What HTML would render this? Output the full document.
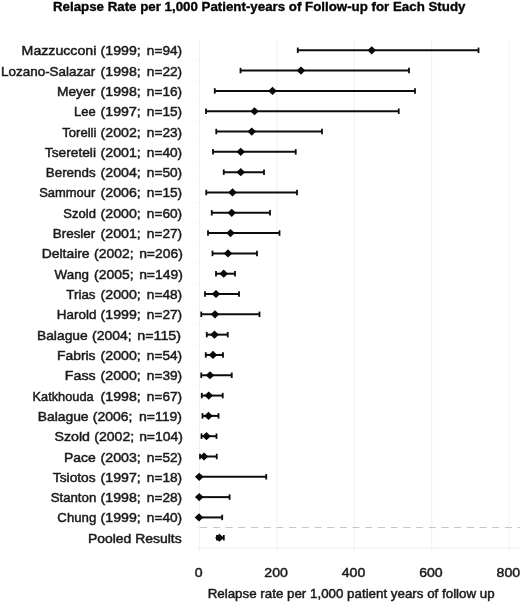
<!DOCTYPE html>
<html><head><meta charset="utf-8"><title>Relapse Rate</title>
<style>
html,body{margin:0;padding:0;background:#fff;}
body{width:520px;height:602px;overflow:hidden;}
svg{display:block;}
text{font-family:"Liberation Sans",Arial,sans-serif;fill:#1a1a1a;stroke:#1a1a1a;stroke-width:0.48px;}
.lbl{font-size:13.2px;text-anchor:start;}
.tick{font-size:13.4px;text-anchor:middle;}
.ttl{font-size:12.8px;font-weight:bold;text-anchor:middle;fill:#050505;stroke:#050505;stroke-width:0.35px;}
.xl{font-size:12.8px;text-anchor:middle;}
.g{stroke:#f0f0f0;stroke-width:1;fill:none;}
.e{stroke:#0c0c0c;stroke-width:2;fill:none;}
.c{stroke:#0c0c0c;stroke-width:1.8;fill:none;}
.d{fill:#0a0a0a;}
</style></head><body>
<svg width="520" height="602" viewBox="0 0 520 602">
<rect width="520" height="602" fill="#fff"/>
<text class="ttl" x="259.2" y="11.2" textLength="412.5" lengthAdjust="spacingAndGlyphs">Relapse Rate per 1,000 Patient-years of Follow-up for Each Study</text>
<line class="g" x1="199.50" y1="40.5" x2="199.50" y2="551"/>
<line class="g" x1="276.90" y1="40.5" x2="276.90" y2="551"/>
<line class="g" x1="354.30" y1="40.5" x2="354.30" y2="551"/>
<line class="g" x1="431.70" y1="40.5" x2="431.70" y2="551"/>
<line class="g" x1="509.10" y1="40.5" x2="509.10" y2="551"/>
<line class="g" x1="196.5" y1="548" x2="520" y2="548"/>
<line class="g" x1="196.5" y1="60.51" x2="199.5" y2="60.51"/>
<line class="g" x1="196.5" y1="80.82" x2="199.5" y2="80.82"/>
<line class="g" x1="196.5" y1="101.13" x2="199.5" y2="101.13"/>
<line class="g" x1="196.5" y1="121.44" x2="199.5" y2="121.44"/>
<line class="g" x1="196.5" y1="141.75" x2="199.5" y2="141.75"/>
<line class="g" x1="196.5" y1="162.06" x2="199.5" y2="162.06"/>
<line class="g" x1="196.5" y1="182.37" x2="199.5" y2="182.37"/>
<line class="g" x1="196.5" y1="202.68" x2="199.5" y2="202.68"/>
<line class="g" x1="196.5" y1="222.99" x2="199.5" y2="222.99"/>
<line class="g" x1="196.5" y1="243.30" x2="199.5" y2="243.30"/>
<line class="g" x1="196.5" y1="263.61" x2="199.5" y2="263.61"/>
<line class="g" x1="196.5" y1="283.92" x2="199.5" y2="283.92"/>
<line class="g" x1="196.5" y1="304.23" x2="199.5" y2="304.23"/>
<line class="g" x1="196.5" y1="324.54" x2="199.5" y2="324.54"/>
<line class="g" x1="196.5" y1="344.85" x2="199.5" y2="344.85"/>
<line class="g" x1="196.5" y1="365.16" x2="199.5" y2="365.16"/>
<line class="g" x1="196.5" y1="385.47" x2="199.5" y2="385.47"/>
<line class="g" x1="196.5" y1="405.78" x2="199.5" y2="405.78"/>
<line class="g" x1="196.5" y1="426.09" x2="199.5" y2="426.09"/>
<line class="g" x1="196.5" y1="446.40" x2="199.5" y2="446.40"/>
<line class="g" x1="196.5" y1="466.71" x2="199.5" y2="466.71"/>
<line class="g" x1="196.5" y1="487.02" x2="199.5" y2="487.02"/>
<line class="g" x1="196.5" y1="507.33" x2="199.5" y2="507.33"/>
<line class="g" x1="196.5" y1="527.64" x2="199.5" y2="527.64"/>
<line x1="200.2" y1="527.5" x2="520" y2="527.5" stroke="#c6c6c6" stroke-width="1.1" stroke-dasharray="7 5.7"/>
<text class="lbl" y="55.30"><tspan x="21.62" textLength="74.72" lengthAdjust="spacingAndGlyphs">Mazzucconi</tspan> <tspan x="100.60" textLength="40.15" lengthAdjust="spacingAndGlyphs">(1999;</tspan> <tspan x="146.83" textLength="35.32" lengthAdjust="spacingAndGlyphs">n=94)</tspan></text>
<line class="e" x1="297.75" y1="50.30" x2="478.5" y2="50.30"/><line class="c" x1="297.75" y1="47.55" x2="297.75" y2="53.05"/><line class="c" x1="478.5" y1="47.55" x2="478.5" y2="53.05"/><polygon class="d" points="367.45,50.30 371.75,46.20 376.05,50.30 371.75,54.40"/>
<text class="lbl" y="75.61"><tspan x="0.99" textLength="94.27" lengthAdjust="spacingAndGlyphs">Lozano-Salazar</tspan> <tspan x="100.60" textLength="40.15" lengthAdjust="spacingAndGlyphs">(1998;</tspan> <tspan x="146.83" textLength="35.32" lengthAdjust="spacingAndGlyphs">n=22)</tspan></text>
<line class="e" x1="240.5" y1="70.61" x2="409" y2="70.61"/><line class="c" x1="240.5" y1="67.86" x2="240.5" y2="73.36"/><line class="c" x1="409" y1="67.86" x2="409" y2="73.36"/><polygon class="d" points="296.70,70.61 301,66.51 305.30,70.61 301,74.71"/>
<text class="lbl" y="95.92"><tspan x="56.95" textLength="38.28" lengthAdjust="spacingAndGlyphs">Meyer</tspan> <tspan x="100.60" textLength="40.15" lengthAdjust="spacingAndGlyphs">(1998;</tspan> <tspan x="146.83" textLength="35.32" lengthAdjust="spacingAndGlyphs">n=16)</tspan></text>
<line class="e" x1="214.75" y1="90.92" x2="415" y2="90.92"/><line class="c" x1="214.75" y1="88.17" x2="214.75" y2="93.67"/><line class="c" x1="415" y1="88.17" x2="415" y2="93.67"/><polygon class="d" points="268.20,90.92 272.5,86.82 276.80,90.92 272.5,95.02"/>
<text class="lbl" y="116.23"><tspan x="74.07" textLength="21.66" lengthAdjust="spacingAndGlyphs">Lee</tspan> <tspan x="100.60" textLength="40.15" lengthAdjust="spacingAndGlyphs">(1997;</tspan> <tspan x="146.83" textLength="35.32" lengthAdjust="spacingAndGlyphs">n=15)</tspan></text>
<line class="e" x1="206" y1="111.23" x2="398.75" y2="111.23"/><line class="c" x1="206" y1="108.48" x2="206" y2="113.98"/><line class="c" x1="398.75" y1="108.48" x2="398.75" y2="113.98"/><polygon class="d" points="250.20,111.23 254.5,107.13 258.80,111.23 254.5,115.33"/>
<text class="lbl" y="136.54"><tspan x="62.34" textLength="34.05" lengthAdjust="spacingAndGlyphs">Torelli</tspan> <tspan x="100.60" textLength="40.15" lengthAdjust="spacingAndGlyphs">(2002;</tspan> <tspan x="146.83" textLength="35.32" lengthAdjust="spacingAndGlyphs">n=23)</tspan></text>
<line class="e" x1="216.25" y1="131.54" x2="322" y2="131.54"/><line class="c" x1="216.25" y1="128.79" x2="216.25" y2="134.29"/><line class="c" x1="322" y1="128.79" x2="322" y2="134.29"/><polygon class="d" points="247.45,131.54 251.75,127.44 256.05,131.54 251.75,135.64"/>
<text class="lbl" y="156.85"><tspan x="44.84" textLength="51.13" lengthAdjust="spacingAndGlyphs">Tsereteli</tspan> <tspan x="100.60" textLength="40.15" lengthAdjust="spacingAndGlyphs">(2001;</tspan> <tspan x="146.83" textLength="35.32" lengthAdjust="spacingAndGlyphs">n=40)</tspan></text>
<line class="e" x1="213" y1="151.85" x2="295.75" y2="151.85"/><line class="c" x1="213" y1="149.10" x2="213" y2="154.60"/><line class="c" x1="295.75" y1="149.10" x2="295.75" y2="154.60"/><polygon class="d" points="236.45,151.85 240.75,147.75 245.05,151.85 240.75,155.95"/>
<text class="lbl" y="177.16"><tspan x="45.84" textLength="49.76" lengthAdjust="spacingAndGlyphs">Berends</tspan> <tspan x="100.60" textLength="40.15" lengthAdjust="spacingAndGlyphs">(2004;</tspan> <tspan x="146.83" textLength="35.32" lengthAdjust="spacingAndGlyphs">n=50)</tspan></text>
<line class="e" x1="223.75" y1="172.16" x2="264" y2="172.16"/><line class="c" x1="223.75" y1="169.41" x2="223.75" y2="174.91"/><line class="c" x1="264" y1="169.41" x2="264" y2="174.91"/><polygon class="d" points="236.45,172.16 240.75,168.06 245.05,172.16 240.75,176.26"/>
<text class="lbl" y="197.47"><tspan x="39.19" textLength="56.10" lengthAdjust="spacingAndGlyphs">Sammour</tspan> <tspan x="100.60" textLength="40.15" lengthAdjust="spacingAndGlyphs">(2006;</tspan> <tspan x="146.83" textLength="35.32" lengthAdjust="spacingAndGlyphs">n=15)</tspan></text>
<line class="e" x1="206.25" y1="192.47" x2="297" y2="192.47"/><line class="c" x1="206.25" y1="189.72" x2="206.25" y2="195.22"/><line class="c" x1="297" y1="189.72" x2="297" y2="195.22"/><polygon class="d" points="228.20,192.47 232.5,188.37 236.80,192.47 232.5,196.57"/>
<text class="lbl" y="217.78"><tspan x="63.29" textLength="32.61" lengthAdjust="spacingAndGlyphs">Szold</tspan> <tspan x="100.60" textLength="40.15" lengthAdjust="spacingAndGlyphs">(2000;</tspan> <tspan x="146.83" textLength="35.32" lengthAdjust="spacingAndGlyphs">n=60)</tspan></text>
<line class="e" x1="211.75" y1="212.78" x2="270" y2="212.78"/><line class="c" x1="211.75" y1="210.03" x2="211.75" y2="215.53"/><line class="c" x1="270" y1="210.03" x2="270" y2="215.53"/><polygon class="d" points="227.45,212.78 231.75,208.68 236.05,212.78 231.75,216.88"/>
<text class="lbl" y="238.09"><tspan x="52.79" textLength="42.50" lengthAdjust="spacingAndGlyphs">Bresler</tspan> <tspan x="100.60" textLength="40.15" lengthAdjust="spacingAndGlyphs">(2001;</tspan> <tspan x="146.83" textLength="35.32" lengthAdjust="spacingAndGlyphs">n=27)</tspan></text>
<line class="e" x1="208" y1="233.09" x2="279.5" y2="233.09"/><line class="c" x1="208" y1="230.34" x2="208" y2="235.84"/><line class="c" x1="279.5" y1="230.34" x2="279.5" y2="235.84"/><polygon class="d" points="226.20,233.09 230.5,228.99 234.80,233.09 230.5,237.19"/>
<text class="lbl" y="258.40"><tspan x="41.70" textLength="47.90" lengthAdjust="spacingAndGlyphs">Deltaire</tspan> <tspan x="94.10" textLength="39.49" lengthAdjust="spacingAndGlyphs">(2002;</tspan> <tspan x="139.15" textLength="43.68" lengthAdjust="spacingAndGlyphs">n=206)</tspan></text>
<line class="e" x1="212.5" y1="253.40" x2="257" y2="253.40"/><line class="c" x1="212.5" y1="250.65" x2="212.5" y2="256.15"/><line class="c" x1="257" y1="250.65" x2="257" y2="256.15"/><polygon class="d" points="223.70,253.40 228,249.30 232.30,253.40 228,257.50"/>
<text class="lbl" y="278.71"><tspan x="54.62" textLength="34.43" lengthAdjust="spacingAndGlyphs">Wang</tspan> <tspan x="94.10" textLength="39.49" lengthAdjust="spacingAndGlyphs">(2005;</tspan> <tspan x="139.15" textLength="43.68" lengthAdjust="spacingAndGlyphs">n=149)</tspan></text>
<line class="e" x1="216" y1="273.71" x2="235" y2="273.71"/><line class="c" x1="216" y1="270.96" x2="216" y2="276.46"/><line class="c" x1="235" y1="270.96" x2="235" y2="276.46"/><polygon class="d" points="219.45,273.71 223.75,269.61 228.05,273.71 223.75,277.81"/>
<text class="lbl" y="299.02"><tspan x="66.29" textLength="29.24" lengthAdjust="spacingAndGlyphs">Trias</tspan> <tspan x="100.60" textLength="40.15" lengthAdjust="spacingAndGlyphs">(2000;</tspan> <tspan x="146.83" textLength="35.32" lengthAdjust="spacingAndGlyphs">n=48)</tspan></text>
<line class="e" x1="205" y1="294.02" x2="239" y2="294.02"/><line class="c" x1="205" y1="291.27" x2="205" y2="296.77"/><line class="c" x1="239" y1="291.27" x2="239" y2="296.77"/><polygon class="d" points="211.70,294.02 216,289.92 220.30,294.02 216,298.12"/>
<text class="lbl" y="319.33"><tspan x="56.89" textLength="39.47" lengthAdjust="spacingAndGlyphs">Harold</tspan> <tspan x="100.60" textLength="40.15" lengthAdjust="spacingAndGlyphs">(1999;</tspan> <tspan x="146.83" textLength="35.32" lengthAdjust="spacingAndGlyphs">n=27)</tspan></text>
<line class="e" x1="201.25" y1="314.33" x2="259.5" y2="314.33"/><line class="c" x1="201.25" y1="311.58" x2="201.25" y2="317.08"/><line class="c" x1="259.5" y1="311.58" x2="259.5" y2="317.08"/><polygon class="d" points="210.70,314.33 215,310.23 219.30,314.33 215,318.43"/>
<text class="lbl" y="339.64"><tspan x="36.95" textLength="50.79" lengthAdjust="spacingAndGlyphs">Balague</tspan> <tspan x="92.10" textLength="39.49" lengthAdjust="spacingAndGlyphs">(2004;</tspan> <tspan x="137.20" textLength="43.88" lengthAdjust="spacingAndGlyphs">n=115)</tspan></text>
<line class="e" x1="206.75" y1="334.64" x2="227.75" y2="334.64"/><line class="c" x1="206.75" y1="331.89" x2="206.75" y2="337.39"/><line class="c" x1="227.75" y1="331.89" x2="227.75" y2="337.39"/><polygon class="d" points="210.20,334.64 214.5,330.54 218.80,334.64 214.5,338.74"/>
<text class="lbl" y="359.95"><tspan x="56.94" textLength="38.64" lengthAdjust="spacingAndGlyphs">Fabris</tspan> <tspan x="100.60" textLength="40.15" lengthAdjust="spacingAndGlyphs">(2000;</tspan> <tspan x="146.83" textLength="35.32" lengthAdjust="spacingAndGlyphs">n=54)</tspan></text>
<line class="e" x1="205.75" y1="354.95" x2="223" y2="354.95"/><line class="c" x1="205.75" y1="352.20" x2="205.75" y2="357.70"/><line class="c" x1="223" y1="352.20" x2="223" y2="357.70"/><polygon class="d" points="208.70,354.95 213,350.85 217.30,354.95 213,359.05"/>
<text class="lbl" y="380.26"><tspan x="64.83" textLength="30.78" lengthAdjust="spacingAndGlyphs">Fass</tspan> <tspan x="100.60" textLength="40.15" lengthAdjust="spacingAndGlyphs">(2000;</tspan> <tspan x="146.83" textLength="35.32" lengthAdjust="spacingAndGlyphs">n=39)</tspan></text>
<line class="e" x1="201.25" y1="375.26" x2="231.75" y2="375.26"/><line class="c" x1="201.25" y1="372.51" x2="201.25" y2="378.01"/><line class="c" x1="231.75" y1="372.51" x2="231.75" y2="378.01"/><polygon class="d" points="205.70,375.26 210,371.16 214.30,375.26 210,379.36"/>
<text class="lbl" y="400.57"><tspan x="32.52" textLength="61.10" lengthAdjust="spacingAndGlyphs">Katkhouda</tspan> <tspan x="100.60" textLength="40.15" lengthAdjust="spacingAndGlyphs">(1998;</tspan> <tspan x="146.83" textLength="35.32" lengthAdjust="spacingAndGlyphs">n=67)</tspan></text>
<line class="e" x1="201.75" y1="395.57" x2="222.75" y2="395.57"/><line class="c" x1="201.75" y1="392.82" x2="201.75" y2="398.32"/><line class="c" x1="222.75" y1="392.82" x2="222.75" y2="398.32"/><polygon class="d" points="204.45,395.57 208.75,391.47 213.05,395.57 208.75,399.67"/>
<text class="lbl" y="420.88"><tspan x="37.70" textLength="50.89" lengthAdjust="spacingAndGlyphs">Balague</tspan> <tspan x="92.75" textLength="39.56" lengthAdjust="spacingAndGlyphs">(2006;</tspan> <tspan x="138.94" textLength="42.96" lengthAdjust="spacingAndGlyphs">n=119)</tspan></text>
<line class="e" x1="202.5" y1="415.88" x2="218.5" y2="415.88"/><line class="c" x1="202.5" y1="413.13" x2="202.5" y2="418.63"/><line class="c" x1="218.5" y1="413.13" x2="218.5" y2="418.63"/><polygon class="d" points="204.20,415.88 208.5,411.78 212.80,415.88 208.5,419.98"/>
<text class="lbl" y="441.19"><tspan x="54.47" textLength="35.55" lengthAdjust="spacingAndGlyphs">Szold</tspan> <tspan x="94.22" textLength="39.94" lengthAdjust="spacingAndGlyphs">(2002;</tspan> <tspan x="139.15" textLength="43.68" lengthAdjust="spacingAndGlyphs">n=104)</tspan></text>
<line class="e" x1="201.5" y1="436.19" x2="216.5" y2="436.19"/><line class="c" x1="201.5" y1="433.44" x2="201.5" y2="438.94"/><line class="c" x1="216.5" y1="433.44" x2="216.5" y2="438.94"/><polygon class="d" points="202.20,436.19 206.5,432.09 210.80,436.19 206.5,440.29"/>
<text class="lbl" y="461.50"><tspan x="63.95" textLength="31.81" lengthAdjust="spacingAndGlyphs">Pace</tspan> <tspan x="100.60" textLength="40.15" lengthAdjust="spacingAndGlyphs">(2003;</tspan> <tspan x="146.83" textLength="35.32" lengthAdjust="spacingAndGlyphs">n=52)</tspan></text>
<line class="e" x1="200" y1="456.50" x2="216.75" y2="456.50"/><line class="c" x1="200" y1="453.75" x2="200" y2="459.25"/><line class="c" x1="216.75" y1="453.75" x2="216.75" y2="459.25"/><polygon class="d" points="199.70,456.50 204,452.40 208.30,456.50 204,460.60"/>
<text class="lbl" y="481.81"><tspan x="52.84" textLength="42.80" lengthAdjust="spacingAndGlyphs">Tsiotos</tspan> <tspan x="100.60" textLength="40.15" lengthAdjust="spacingAndGlyphs">(1997;</tspan> <tspan x="146.83" textLength="35.32" lengthAdjust="spacingAndGlyphs">n=18)</tspan></text>
<line class="e" x1="199.25" y1="476.81" x2="266.25" y2="476.81"/><line class="c" x1="266.25" y1="474.06" x2="266.25" y2="479.56"/><polygon class="d" points="194.95,476.81 199.25,472.71 203.55,476.81 199.25,480.91"/>
<text class="lbl" y="502.12"><tspan x="50.66" textLength="45.62" lengthAdjust="spacingAndGlyphs">Stanton</tspan> <tspan x="100.60" textLength="40.15" lengthAdjust="spacingAndGlyphs">(1998;</tspan> <tspan x="146.83" textLength="35.32" lengthAdjust="spacingAndGlyphs">n=28)</tspan></text>
<line class="e" x1="199.25" y1="497.12" x2="229.6" y2="497.12"/><line class="c" x1="229.6" y1="494.37" x2="229.6" y2="499.87"/><polygon class="d" points="194.95,497.12 199.25,493.02 203.55,497.12 199.25,501.22"/>
<text class="lbl" y="522.43"><tspan x="57.36" textLength="38.94" lengthAdjust="spacingAndGlyphs">Chung</tspan> <tspan x="100.60" textLength="40.15" lengthAdjust="spacingAndGlyphs">(1999;</tspan> <tspan x="146.83" textLength="35.32" lengthAdjust="spacingAndGlyphs">n=40)</tspan></text>
<line class="e" x1="199" y1="517.43" x2="222.2" y2="517.43"/><line class="c" x1="222.2" y1="514.68" x2="222.2" y2="520.18"/><polygon class="d" points="194.70,517.43 199,513.33 203.30,517.43 199,521.53"/>
<text class="lbl" y="542.74"><tspan x="87.93" textLength="93.76" lengthAdjust="spacingAndGlyphs">Pooled Results</tspan></text>
<line class="e" x1="217" y1="537.74" x2="223.8" y2="537.74"/><line class="c" x1="217" y1="534.99" x2="217" y2="540.49"/><line class="c" x1="223.8" y1="534.99" x2="223.8" y2="540.49"/><polygon class="d" points="215.10,537.74 219.4,533.64 223.70,537.74 219.4,541.84"/>
<text class="tick" transform="translate(198.70,577) scale(1.054,1)">0</text>
<text class="tick" transform="translate(276.10,577) scale(1.054,1)">200</text>
<text class="tick" transform="translate(353.50,577) scale(1.054,1)">400</text>
<text class="tick" transform="translate(430.90,577) scale(1.054,1)">600</text>
<text class="tick" transform="translate(508.30,577) scale(1.054,1)">800</text>
<text class="xl" x="351.2" y="598" textLength="287" lengthAdjust="spacingAndGlyphs">Relapse rate per 1,000 patient years of follow up</text>
</svg></body></html>
